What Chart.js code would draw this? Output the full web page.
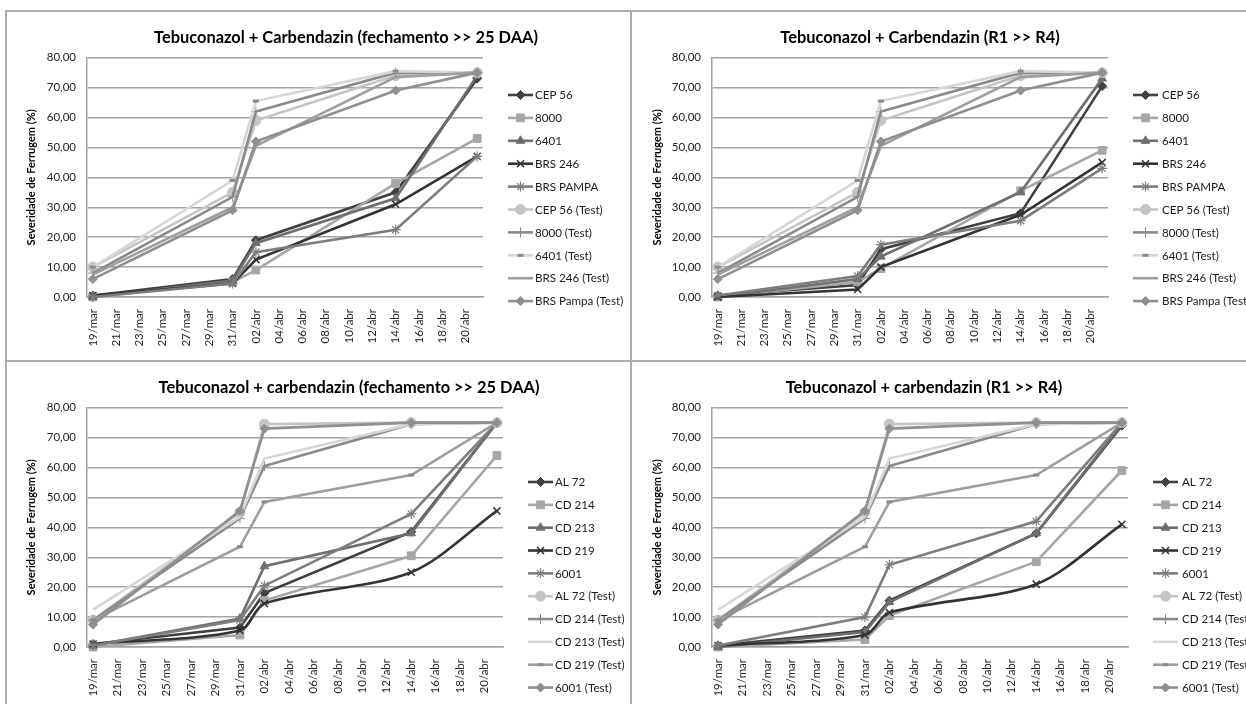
<!DOCTYPE html>
<html><head><meta charset="utf-8">
<script src="https://cdn.jsdelivr.net/npm/chart.js@4.4.1/dist/chart.umd.min.js"></script>
<style>
html,body{margin:0;padding:0;background:#fff;}
body{width:1246px;height:704px;position:relative;overflow:hidden;}
.panel{position:absolute;overflow:hidden;}
.panel canvas{position:absolute;left:0;top:0;}
.hl{position:absolute;height:2px;background:#adadad;}
.vl{position:absolute;width:2px;background:#adadad;}
</style></head><body>
<div class="panel" id="p0" style="left:6px;top:11px;width:625px;height:350px"><canvas id="c0"></canvas></div>
<div class="panel" id="p1" style="left:632px;top:11px;width:614px;height:350px"><canvas id="c1"></canvas></div>
<div class="panel" id="p2" style="left:6px;top:361px;width:625px;height:343px"><canvas id="c2"></canvas></div>
<div class="panel" id="p3" style="left:632px;top:361px;width:614px;height:343px"><canvas id="c3"></canvas></div>
<div class="hl" style="left:5px;top:10px;width:1241px"></div>
<div class="hl" style="left:5px;top:360px;width:1241px"></div>
<div class="vl" style="left:5px;top:10px;height:694px"></div>
<div class="vl" style="left:630px;top:10px;height:694px"></div>
<script>
// ---------- DATA ----------
const tickLabels = ['19/mar','21/mar','23/mar','25/mar','27/mar','29/mar','31/mar','02/abr','04/abr','06/abr','08/abr','10/abr','12/abr','14/abr','16/abr','18/abr','20/abr'];
const sampleDates = ['19/mar','31/mar','02/abr','14/abr','21/abr'];
const yTickValues = [0,10,20,30,40,50,60,70,80];

const topTitles = ['Tebuconazol + Carbendazin (fechamento >> 25 DAA)','Tebuconazol + Carbendazin (R1 >> R4)'];
const bottomTitles = ['Tebuconazol + carbendazin (fechamento >> 25 DAA)','Tebuconazol + carbendazin (R1 >> R4)'];
const yAxisTitle = 'Severidade de Ferrugem (%)';

const topSeries = ['CEP 56','8000','6401','BRS 246','BRS PAMPA','CEP 56 (Test)','8000 (Test)','6401 (Test)','BRS 246 (Test)','BRS Pampa (Test)'];
const bottomSeries = ['AL 72','CD 214','CD 213','CD 219','6001','AL 72 (Test)','CD 214 (Test)','CD 213 (Test)','CD 219 (Test)','6001 (Test)'];

// top panels: treated series (fechamento / R1>>R4) and shared untreated checks
const topFechValues = [
  [0.5, 6.0, 19.0, 35.0, 73.0],
  [0.0, 5.0, 9.0, 38.0, 53.0],
  [0.0, 5.5, 18.0, 33.0, 74.0],
  [0.5, 4.5, 12.5, 31.0, 47.0],
  [0.0, 4.5, 15.0, 22.5, 47.0]
];
const topR1R4Values = [
  [0.5, 4.0, 16.0, 28.0, 70.5],
  [0.0, 5.0, 9.5, 35.5, 49.0],
  [0.0, 6.0, 13.5, 35.0, 73.0],
  [0.0, 2.5, 10.0, 27.5, 45.0],
  [0.5, 7.0, 17.5, 25.5, 43.0]
];
const topTestValues = [
  [10.0, 35.0, 59.0, 74.0, 75.0],
  [8.0, 33.5, 62.0, 75.0, 75.0],
  [10.0, 39.0, 65.5, 75.5, 75.0],
  [7.5, 30.0, 50.5, 73.5, 75.0],
  [6.0, 29.0, 52.0, 69.0, 75.0]
];
// bottom panels
const botFechValues = [
  [1.0, 6.5, 18.0, 38.5, 75.0],
  [0.0, 4.0, 15.5, 30.5, 64.0],
  [0.5, 9.5, 27.0, 38.0, 75.0],
  [1.0, 5.5, 14.5, 25.0, 45.5],
  [0.5, 9.0, 20.5, 44.5, 75.0]
];
const botR1R4Values = [
  [0.5, 5.5, 15.5, 38.0, 74.0],
  [0.0, 2.5, 10.5, 28.5, 59.0],
  [0.0, 5.0, 15.0, 38.0, 74.5],
  [0.5, 4.0, 11.5, 21.0, 41.0],
  [0.5, 10.0, 27.5, 42.0, 75.0]
];
const botTestValues = [
  [9.0, 45.0, 74.5, 75.0, 75.0],
  [9.0, 43.0, 60.5, 74.5, 75.0],
  [12.5, 43.5, 63.0, 74.5, 75.0],
  [9.0, 33.5, 48.5, 57.5, 75.0],
  [7.5, 45.5, 73.0, 75.0, 75.0]
];

// ---------- STYLES ----------
const seriesStyles = [
  {color:'#404040', point:'rectRot', r:4.5, bw:1},
  {color:'#a6a6a6', point:'rect', r:5.5, bw:1},
  {color:'#6f6f6f', point:'triangle', r:5, bw:1},
  {color:'#333333', point:'crossRot', r:5, bw:1.5},
  {color:'#7d7d7d', point:'star', r:5, bw:1.2},
  {color:'#c4c4c4', point:'circle', r:5, bw:1},
  {color:'#8a8a8a', point:'cross', r:5, bw:1},
  {color:'#d6d6d6', point:'line', r:3, bw:3},
  {color:'#9e9e9e', point:false, r:0, bw:1},
  {color:'#8f8f8f', point:'rectRot', r:4.5, bw:1}
];
const FONT = 'Lato';
const GRID = '#a3a3a3';

function dayOf(lbl){
  const [d, m] = lbl.split('/');
  return m === 'mar' ? (+d - 19) : (12 + (+d));
}
const sampleDays = sampleDates.map(dayOf);
const tickDays = tickLabels.map(dayOf);

const sideLegend = {
  id: 'sideLegend',
  afterDraw(chart, args, o) {
    const ctx = chart.ctx;
    chart.data.datasets.forEach((ds, i) => {
      const y = o.y0 + i * o.dy;
      ctx.save();
      ctx.strokeStyle = ds.borderColor;
      ctx.lineWidth = ds.borderWidth;
      ctx.beginPath(); ctx.moveTo(o.x0, y); ctx.lineTo(o.x0 + o.len, y); ctx.stroke();
      if (ds.pointRadius > 0 && ds.pointStyle) {
        ctx.fillStyle = ds.pointBackgroundColor;
        ctx.strokeStyle = ds.pointBorderColor;
        ctx.lineWidth = ds.pointBorderWidth;
        Chart.helpers.drawPoint(ctx, {pointStyle: ds.pointStyle, radius: ds.pointRadius, borderWidth: ds.pointBorderWidth, rotation: 0}, o.x0 + o.len/2, y);
      }
      ctx.fillStyle = '#1a1a1a';
      ctx.font = '11.6px ' + FONT;
      ctx.textBaseline = 'middle';
      ctx.textAlign = 'left';
      ctx.fillText(ds.label, o.textX, y + 0.5);
      ctx.restore();
    });
  }
};

function buildDatasets(names, treated, test, isBottom) {
  const all = treated.concat(test);
  return all.map((vals, i) => {
    const st = seriesStyles[i];
    let point = st.point, r = st.r, bw = st.bw;
    if (isBottom && i === 8) { point = 'line'; r = 3; bw = 3; }
    if (isBottom && i === 7) { point = false; r = 0; }
    const ds = {
      label: names[i],
      data: vals.map((v, k) => ({x: sampleDays[k], y: v})),
      borderColor: st.color,
      backgroundColor: st.color,
      borderWidth: 2.6,
      pointStyle: point,
      pointRadius: r,
      pointBorderWidth: bw,
      pointBackgroundColor: (point === 'line') ? '#7a7a7a' : st.color,
      pointBorderColor: (point === 'line') ? '#8a8a8a' : st.color,
      pointHoverRadius: r,
      tension: 0,
      clip: false,
      order: all.length - i,
      xAxisID: 'x', yAxisID: 'y'
    };
    if (isBottom && i === 3) ds.tension = 0.3;
    return ds;
  });
}

function makeChart(id, cfg) {
  const cv = document.getElementById(id);
  cv.width = cfg.W; cv.height = cfg.H;
  cv.style.width = cfg.W + 'px'; cv.style.height = cfg.H + 'px';
  return new Chart(cv, {
    type: 'line',
    data: { datasets: cfg.datasets },
    plugins: [sideLegend],
    options: {
      responsive: false,
      animation: false,
      devicePixelRatio: 1,
      layout: { padding: { left: 0, right: cfg.padR, top: 0, bottom: 0 } },
      plugins: {
        legend: { display: false },
        tooltip: { enabled: false },
        title: {
          display: true, text: cfg.title, color: '#000',
          font: { family: FONT, size: 16.4, weight: 'bold' },
          padding: { top: 17, bottom: 10 }
        },
        sideLegend: cfg.legend
      },
      scales: {
        x: {
          type: 'linear', min: -0.5, max: 33.5,
          afterBuildTicks: s => { s.ticks = tickDays.map(v => ({value: v})); },
          afterFit: s => { s.height = 64; },
          ticks: {
            autoSkip: false, maxRotation: 90, minRotation: 90, padding: 12,
            color: '#262626', font: { family: FONT, size: 11.5 },
            callback: (v, i) => tickLabels[i]
          },
          grid: { display: false, drawTicks: false },
          border: { display: true, color: GRID, width: 1.5 }
        },
        y: {
          type: 'linear', position: 'left', min: 0, max: 80,
          afterBuildTicks: s => { s.ticks = yTickValues.map(v => ({value: v})); },
          afterFit: s => { s.width = cfg.yW; },
          ticks: {
            padding: 11, color: '#262626', font: { family: FONT, size: 11.5 },
            callback: v => v.toFixed(2).replace('.', ',')
          },
          grid: { color: GRID, lineWidth: 1.5, drawTicks: false },
          border: { display: true, color: GRID, width: 1.5 },
          title: {
            display: true, text: yAxisTitle, color: '#000',
            font: { family: FONT, size: 11, weight: 'bold' },
            padding: { top: 19, bottom: 0 }
          }
        },
        yRight: {
          type: 'linear', position: 'right', axis: 'y', display: true,
          afterFit: s => { s.width = cfg.rW; },
          ticks: { display: false },
          grid: { display: false, drawTicks: false },
          border: { display: false }
        }
      }
    }
  });
}

makeChart('c0', { W: 680, H: 350, padR: 0, yW: 81, rW: 203, title: topTitles[0],
  datasets: buildDatasets(topSeries, topFechValues, topTestValues, false),
  legend: { x0: 502, len: 25, textX: 529, y0: 84, dy: 22.9 } });
makeChart('c1', { W: 620, H: 350, padR: 44, yW: 80, rW: 100, title: topTitles[1],
  datasets: buildDatasets(topSeries, topR1R4Values, topTestValues, false),
  legend: { x0: 501, len: 25, textX: 530, y0: 84, dy: 22.9 } });
makeChart('c2', { W: 686, H: 350, padR: 0, yW: 81, rW: 189, title: bottomTitles[0],
  datasets: buildDatasets(bottomSeries, botFechValues, botTestValues, true),
  legend: { x0: 522, len: 25, textX: 549, y0: 121, dy: 22.84 } });
makeChart('c3', { W: 620, H: 350, padR: 36, yW: 80, rW: 88, title: bottomTitles[1],
  datasets: buildDatasets(bottomSeries, botR1R4Values, botTestValues, true),
  legend: { x0: 521, len: 25, textX: 550, y0: 121, dy: 22.84 } });
</script>
</body></html>
